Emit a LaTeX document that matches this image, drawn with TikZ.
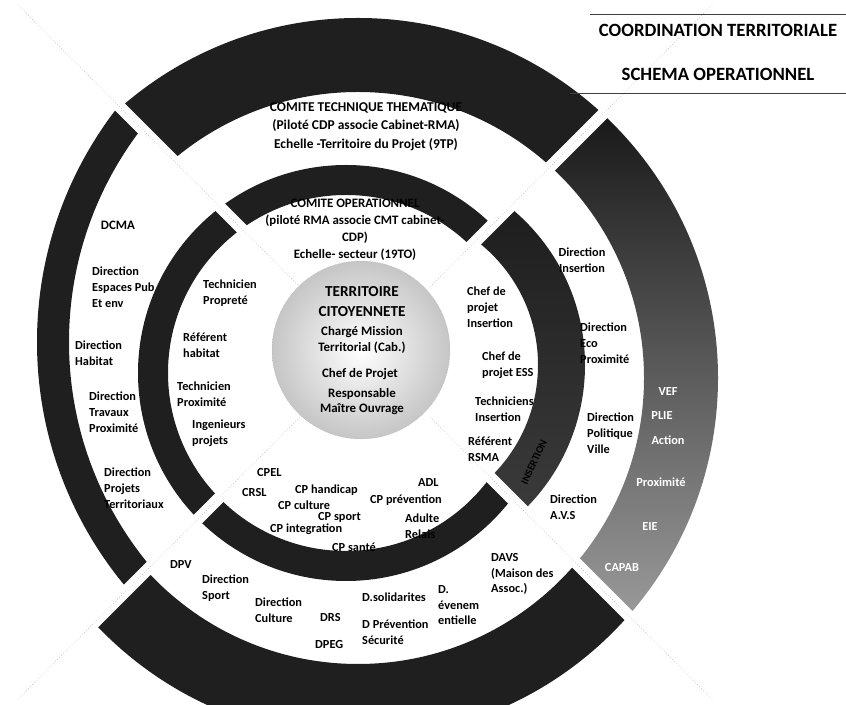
\documentclass[tikz,border=0pt]{standalone}
\usepackage{fontspec}
\setmainfont{Carlito}
\usetikzlibrary{calc}

\tikzset{
  lbl/.style={font=\fontsize{10.5}{13.5}\selectfont\bfseries, align=left, anchor=north west, inner sep=0pt},
  one/.style={font=\fontsize{10.5}{13.5}\selectfont\bfseries, anchor=west, inner sep=0pt},
  ttl/.style={font=\fontsize{11}{14.5}\selectfont\bfseries, align=center, anchor=north, inner sep=0pt},
  ctr/.style={font=\fontsize{11}{12}\selectfont\bfseries, inner sep=0pt},
  big/.style={font=\fontsize{13}{14}\selectfont\bfseries, inner sep=0pt},
  head/.style={font=\fontsize{16}{18}\selectfont\bfseries, inner sep=0pt},
  seg/.style={font=\fontsize{10.5}{12}\selectfont\bfseries, inner sep=0pt, text=white},
  band/.style={fill=black!88},
  gap/.style={white, line width=0.36cm},
  seam/.style={gray!60, dotted, line width=0.5pt}
}

\begin{document}
\begin{tikzpicture}[x=0.03cm, y=0.03cm]
  \useasboundingbox (0,0) rectangle (846,704);
  \clip (0,0) rectangle (846,704);
  % centres
  \coordinate (mainC) at (358,326);
  \coordinate (leftC) at (419,362);
  \coordinate (ringC) at (346,331);
  \coordinate (insC) at (382,339);
  \coordinate (gapC) at (365,352);
  \coordinate (coreC) at (361,354);

  % anneau exterieur : haut, gauche, bas
  \begin{scope}
    \clip (gapC) -- +(45:900) -- +(135:900) -- cycle;
    \fill[band, even odd rule] (mainC) circle[radius=360] (mainC) circle[radius=286];
  \end{scope}
  \begin{scope}
    \clip (gapC) -- +(135:900) -- +(225:900) -- cycle;
    \fill[band, even odd rule] (leftC) circle[radius=382] (leftC) circle[radius=350];
  \end{scope}
  \begin{scope}
    \clip (gapC) -- +(225:900) -- +(315:900) -- cycle;
    \fill[band, even odd rule] (mainC) circle[radius=360] (mainC) circle[radius=286];
  \end{scope}
  % anneau interieur : haut, gauche, bas
  \begin{scope}
    \clip (gapC) -- +(45:900) -- +(135:900) -- +(225:900) -- +(315:900) -- cycle;
    \fill[band, even odd rule] (ringC) circle[radius=208] (ringC) circle[radius=178];
  \end{scope}
  % secteurs droits (insertion)
  \begin{scope}
    \clip (gapC) -- +(-45:900) -- +(45:900) -- cycle;
    \shade[top color=black, bottom color=gray!55, even odd rule] (mainC) circle[radius=360] (mainC) circle[radius=286];
    \shade[top color=black!90, middle color=gray!60, bottom color=black!75, even odd rule] (insC) circle[radius=203] (insC) circle[radius=156];
  \end{scope}

  % coupures
  \foreach \a in {45,135,225,315}
    \draw[gap] (gapC) ++(\a:60) -- ++(\a:420);
  \foreach \a in {45,135,225,315}
    \draw[seam] (gapC) ++(\a:92) -- ++(\a:400);

  % coeur
  \shade[inner color=white, outer color=gray!45] (coreC) circle[radius=89];
  \draw[gray!60, densely dotted] (coreC) circle[radius=89];
  \node[big] (terr) at (362,412) {TERRITOIRE};
  \node[big] (cito) at (362,392) {CITOYENNETE};
  \node[ctr] (charge) at (362,372) {Chargé Mission};
  \node[ctr] (cab) at (362,356) {Territorial (Cab.)};
  \node[ctr] (chef) at (360,330) {Chef de Projet};
  \node[ctr] (resp) at (362,310) {Responsable};
  \node[ctr] (moa) at (362,295) {Maître Ouvrage};

  % comite technique (bande exterieure)
  \node[ttl, font=\fontsize{11.5}{16}\selectfont\bfseries] (cotech) at (366,602)
    {COMITE TECHNIQUE THEMATIQUE\\(Piloté CDP associe Cabinet-RMA)\\Echelle -Territoire du Projet (9TP)};
  \node[one, anchor=center, font=\fontsize{11}{13}\selectfont\bfseries] (dcma) at (118,479) {DCMA};
  \node[lbl] (espub) at (92,437) {Direction\\Espaces Pub\\Et env};
  \node[lbl] (habitat) at (75,363) {Direction\\Habitat};
  \node[lbl] (travaux) at (89,312) {Direction\\Travaux\\Proximité};
  \node[lbl] (projets) at (104,236) {Direction\\Projets\\Territoriaux};
  \node[one] (dpv) at (170,139) {DPV};
  \node[lbl] (sport) at (202,129) {Direction\\Sport};
  \node[lbl] (culture) at (255,106) {Direction\\Culture};
  \node[one] (drs) at (320,86) {DRS};
  \node[one] (dpeg) at (315,59) {DPEG};
  \node[one] (solid) at (362,107) {D.solidarites};
  \node[lbl] (prev) at (362,84) {D Prévention\\Sécurité};
  \node[lbl] (event) at (438,119) {D.\\évenem\\entielle};
  \node[lbl] (davs) at (491,151) {DAVS\\(Maison des\\Assoc.)};
  \node[lbl] (avs) at (550,209) {Direction\\A.V.S};
  \node[ttl, font=\fontsize{10.5}{13.5}\selectfont\bfseries] (dinser) at (582,456) {Direction\\Insertion};
  \node[lbl] (eco) at (580,381) {Direction\\Eco\\Proximité};
  \node[lbl] (pville) at (587,291) {Direction\\Politique\\Ville};

  % secteur droit exterieur
  \node[seg] (vef) at (668,312) {VEF};
  \node[seg] (plie) at (662,288) {PLIE};
  \node[seg] (action) at (668,264) {Action};
  \node[seg] (prox) at (661,222) {Proximité};
  \node[seg] (eie) at (650,177) {EIE};
  \node[seg] (capab) at (622,136) {CAPAB};

  % comite operationnel (interieur)
  \node[ttl] (coop) at (355,505)
    {COMITE OPERATIONNEL\\(piloté RMA associe CMT cabinet-\\CDP)\\Echelle- secteur (19TO)};
  \node[lbl] (tpropre) at (203,424) {Technicien\\Propreté};
  \node[lbl] (refhab) at (183,371) {Référent\\habitat};
  \node[lbl] (tprox) at (177,322) {Technicien\\Proximité};
  \node[lbl] (ingen) at (192,284) {Ingenieurs\\projets};
  \node[lbl] (cpins) at (467,417) {Chef de\\projet\\Insertion};
  \node[lbl] (cpess) at (482,352) {Chef de\\projet ESS};
  \node[lbl] (techins) at (475,307) {Techniciens\\Insertion};
  \node[lbl] (rsma) at (468,267) {Référent\\RSMA};
  \node[ctr, rotate=65, font=\fontsize{9}{11}\selectfont\bfseries] (insert) at (534,242) {INSERTION};
  \node[one] (cpel) at (257,231) {CPEL};
  \node[one] (crsl) at (242,211) {CRSL};
  \node[one] (handi) at (295,214) {CP handicap};
  \node[one] (cult) at (278,199) {CP culture};
  \node[one] (cpsport) at (318,187) {CP sport};
  \node[one] (integ) at (270,175) {CP integration};
  \node[one] (sante) at (332,157) {CP santé};
  \node[one] (adl) at (418,221) {ADL};
  \node[one] (cpprev) at (370,204) {CP prévention};
  \node[lbl] (relais) at (405,190) {Adulte\\Relais};

  % cartouche
  \coordinate (t1a) at (590,690);
  \coordinate (t1b) at (846,690);
  \coordinate (t2a) at (570,611);
  \coordinate (t2b) at (846,611);
  \draw[black!75, line width=0.6pt] (t1a) -- (t1b);
  \draw[black!75, line width=0.6pt] (t2a) -- (t2b);
  \node[head] (coord) at (718,674) {COORDINATION TERRITORIALE};
  \node[head] (schema) at (718,630) {SCHEMA OPERATIONNEL};
\end{tikzpicture}
\end{document}
